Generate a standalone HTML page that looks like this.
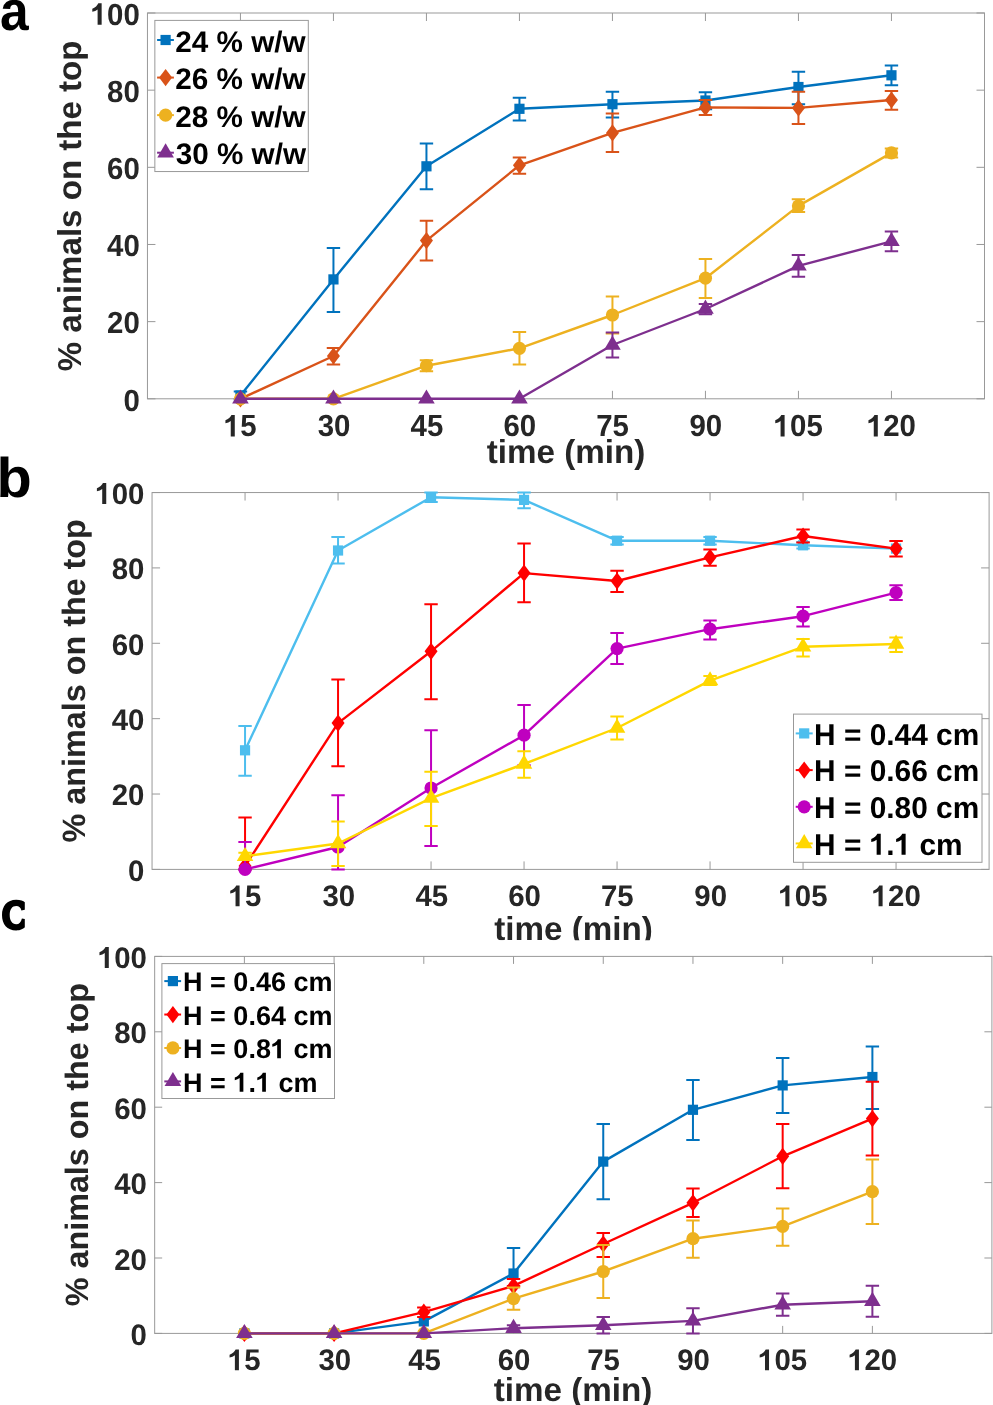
<!DOCTYPE html>
<html><head><meta charset="utf-8"><title>figure</title>
<style>
html,body{margin:0;padding:0;background:#fff;}
body{width:993px;height:1405px;overflow:hidden;}
#w{will-change:transform;width:993px;height:1405px;}
svg{display:block;font-family:"Liberation Sans",sans-serif;font-weight:bold;text-rendering:geometricPrecision;}
</style></head><body><div id="w">
<svg width="993" height="1405" viewBox="0 0 993 1405">
<rect width="993" height="1405" fill="#fff"/>
<rect x="147.45" y="13" width="837.05" height="385.8" fill="none" stroke="#999999" stroke-width="1"/>
<path d="M240.45 398.8V390.8M240.45 13V21M333.45 398.8V390.8M333.45 13V21M426.45 398.8V390.8M426.45 13V21M519.45 398.8V390.8M519.45 13V21M612.45 398.8V390.8M612.45 13V21M705.45 398.8V390.8M705.45 13V21M798.45 398.8V390.8M798.45 13V21M891.45 398.8V390.8M891.45 13V21M147.45 398.8H155.45M984.5 398.8H976.5M147.45 321.64H155.45M984.5 321.64H976.5M147.45 244.48H155.45M984.5 244.48H976.5M147.45 167.32H155.45M984.5 167.32H976.5M147.45 90.16H155.45M984.5 90.16H976.5M147.45 13H155.45M984.5 13H976.5" stroke="#999999" stroke-width="1" fill="none"/>
<path d="M240.45 391.5V399.5M233.75 391.5H247.15M233.75 399.5H247.15" stroke="#0072BD" stroke-width="2.0" fill="none"/>
<path d="M333.45 247.9V312.1M326.75 247.9H340.15M326.75 312.1H340.15" stroke="#0072BD" stroke-width="2.0" fill="none"/>
<path d="M426.45 143.4V189.2M419.75 143.4H433.15M419.75 189.2H433.15" stroke="#0072BD" stroke-width="2.0" fill="none"/>
<path d="M519.45 97.7V120.4M512.75 97.7H526.15M512.75 120.4H526.15" stroke="#0072BD" stroke-width="2.0" fill="none"/>
<path d="M612.45 91.7V117.6M605.75 91.7H619.15M605.75 117.6H619.15" stroke="#0072BD" stroke-width="2.0" fill="none"/>
<path d="M705.45 92.2V109.3M698.75 92.2H712.15M698.75 109.3H712.15" stroke="#0072BD" stroke-width="2.0" fill="none"/>
<path d="M798.45 71.8V104.3M791.75 71.8H805.15M791.75 104.3H805.15" stroke="#0072BD" stroke-width="2.0" fill="none"/>
<path d="M891.45 65.6V85.2M884.75 65.6H898.15M884.75 85.2H898.15" stroke="#0072BD" stroke-width="2.0" fill="none"/>
<path d="M240.45 395.5 L333.45 279.4 L426.45 166.3 L519.45 108.8 L612.45 104.2 L705.45 100.5 L798.45 87 L891.45 75.3" stroke="#0072BD" stroke-width="2.4" fill="none" stroke-linejoin="round"/>
<rect x="235.35" y="390.4" width="10.2" height="10.2" fill="#0072BD"/>
<rect x="328.35" y="274.3" width="10.2" height="10.2" fill="#0072BD"/>
<rect x="421.35" y="161.2" width="10.2" height="10.2" fill="#0072BD"/>
<rect x="514.35" y="103.7" width="10.2" height="10.2" fill="#0072BD"/>
<rect x="607.35" y="99.1" width="10.2" height="10.2" fill="#0072BD"/>
<rect x="700.35" y="95.4" width="10.2" height="10.2" fill="#0072BD"/>
<rect x="793.35" y="81.9" width="10.2" height="10.2" fill="#0072BD"/>
<rect x="886.35" y="70.2" width="10.2" height="10.2" fill="#0072BD"/>
<path d="M333.45 348V364.6M326.75 348H340.15M326.75 364.6H340.15" stroke="#D95319" stroke-width="2.0" fill="none"/>
<path d="M426.45 220.7V260.6M419.75 220.7H433.15M419.75 260.6H433.15" stroke="#D95319" stroke-width="2.0" fill="none"/>
<path d="M519.45 157.5V173.7M512.75 157.5H526.15M512.75 173.7H526.15" stroke="#D95319" stroke-width="2.0" fill="none"/>
<path d="M612.45 113.5V151.9M605.75 113.5H619.15M605.75 151.9H619.15" stroke="#D95319" stroke-width="2.0" fill="none"/>
<path d="M705.45 100V114.9M698.75 100H712.15M698.75 114.9H712.15" stroke="#D95319" stroke-width="2.0" fill="none"/>
<path d="M798.45 91.7V124.1M791.75 91.7H805.15M791.75 124.1H805.15" stroke="#D95319" stroke-width="2.0" fill="none"/>
<path d="M891.45 91.1V109.7M884.75 91.1H898.15M884.75 109.7H898.15" stroke="#D95319" stroke-width="2.0" fill="none"/>
<path d="M240.45 398.8 L333.45 356 L426.45 240.6 L519.45 165.3 L612.45 132.9 L705.45 107.4 L798.45 107.9 L891.45 100" stroke="#D95319" stroke-width="2.4" fill="none" stroke-linejoin="round"/>
<path d="M240.45 390.2L246.95 398.8L240.45 407.4L233.95 398.8Z" fill="#D95319"/>
<path d="M333.45 347.4L339.95 356L333.45 364.6L326.95 356Z" fill="#D95319"/>
<path d="M426.45 232L432.95 240.6L426.45 249.2L419.95 240.6Z" fill="#D95319"/>
<path d="M519.45 156.7L525.95 165.3L519.45 173.9L512.95 165.3Z" fill="#D95319"/>
<path d="M612.45 124.3L618.95 132.9L612.45 141.5L605.95 132.9Z" fill="#D95319"/>
<path d="M705.45 98.8L711.95 107.4L705.45 116L698.95 107.4Z" fill="#D95319"/>
<path d="M798.45 99.3L804.95 107.9L798.45 116.5L791.95 107.9Z" fill="#D95319"/>
<path d="M891.45 91.4L897.95 100L891.45 108.6L884.95 100Z" fill="#D95319"/>
<path d="M426.45 360.3V371.2M419.75 360.3H433.15M419.75 371.2H433.15" stroke="#EDB120" stroke-width="2.0" fill="none"/>
<path d="M519.45 332.1V364.5M512.75 332.1H526.15M512.75 364.5H526.15" stroke="#EDB120" stroke-width="2.0" fill="none"/>
<path d="M612.45 296.4V333.5M605.75 296.4H619.15M605.75 333.5H619.15" stroke="#EDB120" stroke-width="2.0" fill="none"/>
<path d="M705.45 259V298M698.75 259H712.15M698.75 298H712.15" stroke="#EDB120" stroke-width="2.0" fill="none"/>
<path d="M798.45 199.3V212.1M791.75 199.3H805.15M791.75 212.1H805.15" stroke="#EDB120" stroke-width="2.0" fill="none"/>
<path d="M891.45 148.6V157.4M884.75 148.6H898.15M884.75 157.4H898.15" stroke="#EDB120" stroke-width="2.0" fill="none"/>
<path d="M240.45 398.8 L333.45 398.8 L426.45 365.7 L519.45 348.3 L612.45 315 L705.45 278.2 L798.45 205.9 L891.45 152.9" stroke="#EDB120" stroke-width="2.4" fill="none" stroke-linejoin="round"/>
<circle cx="240.45" cy="398.8" r="6.6" fill="#EDB120"/>
<circle cx="333.45" cy="398.8" r="6.6" fill="#EDB120"/>
<circle cx="426.45" cy="365.7" r="6.6" fill="#EDB120"/>
<circle cx="519.45" cy="348.3" r="6.6" fill="#EDB120"/>
<circle cx="612.45" cy="315" r="6.6" fill="#EDB120"/>
<circle cx="705.45" cy="278.2" r="6.6" fill="#EDB120"/>
<circle cx="798.45" cy="205.9" r="6.6" fill="#EDB120"/>
<circle cx="891.45" cy="152.9" r="6.6" fill="#EDB120"/>
<path d="M612.45 332.6V357.6M605.75 332.6H619.15M605.75 357.6H619.15" stroke="#7E2F8E" stroke-width="2.0" fill="none"/>
<path d="M705.45 304V314.2M698.75 304H712.15M698.75 314.2H712.15" stroke="#7E2F8E" stroke-width="2.0" fill="none"/>
<path d="M798.45 254.9V276.7M791.75 254.9H805.15M791.75 276.7H805.15" stroke="#7E2F8E" stroke-width="2.0" fill="none"/>
<path d="M891.45 231.5V251.3M884.75 231.5H898.15M884.75 251.3H898.15" stroke="#7E2F8E" stroke-width="2.0" fill="none"/>
<path d="M240.45 398.8 L333.45 398.8 L426.45 398.8 L519.45 398.8 L612.45 345 L705.45 309 L798.45 265.8 L891.45 241.4" stroke="#7E2F8E" stroke-width="2.4" fill="none" stroke-linejoin="round"/>
<path d="M240.45 389.4L248.75 403.5L232.15 403.5Z" fill="#7E2F8E"/>
<path d="M333.45 389.4L341.75 403.5L325.15 403.5Z" fill="#7E2F8E"/>
<path d="M426.45 389.4L434.75 403.5L418.15 403.5Z" fill="#7E2F8E"/>
<path d="M519.45 389.4L527.75 403.5L511.15 403.5Z" fill="#7E2F8E"/>
<path d="M612.45 335.6L620.75 349.7L604.15 349.7Z" fill="#7E2F8E"/>
<path d="M705.45 299.6L713.75 313.7L697.15 313.7Z" fill="#7E2F8E"/>
<path d="M798.45 256.4L806.75 270.5L790.15 270.5Z" fill="#7E2F8E"/>
<path d="M891.45 232L899.75 246.1L883.15 246.1Z" fill="#7E2F8E"/>
<rect x="154.85" y="20.4" width="153.45" height="151.15" fill="#fff" stroke="#999999" stroke-width="1"/>
<path d="M157.1 40H173.9" stroke="#0072BD" stroke-width="2.0"/>
<rect x="160.5" y="34.9" width="10.2" height="10.2" fill="#0072BD"/>
<text transform="translate(175.32 51.6)" font-size="29.7" fill="#000">24 % w/w</text>
<path d="M157.1 77.57H173.9" stroke="#D95319" stroke-width="2.0"/>
<path d="M165.6 68.97L172.1 77.57L165.6 86.17L159.1 77.57Z" fill="#D95319"/>
<text transform="translate(175.32 89.17)" font-size="29.7" fill="#000">26 % w/w</text>
<path d="M157.1 115.13H173.9" stroke="#EDB120" stroke-width="2.0"/>
<circle cx="165.6" cy="115.13" r="6.6" fill="#EDB120"/>
<text transform="translate(175.32 126.73)" font-size="29.7" fill="#000">28 % w/w</text>
<path d="M157.1 152.7H173.9" stroke="#7E2F8E" stroke-width="2.0"/>
<path d="M165.6 143.3L173.9 157.4L157.3 157.4Z" fill="#7E2F8E"/>
<text transform="translate(175.67 164.3)" font-size="29.7" fill="#000">30 % w/w</text>
<g transform="translate(223.88 436.4) scale(0.98 1.02)" fill="#262626"><text font-size="30"> 5</text><path transform="translate(0 0) scale(0.01465 -0.01465)" d="M759 0L478 0L478 1030Q330 915 108 874L108 1078Q250 1125 370 1230Q480 1330 528 1440L759 1440Z"/></g>
<text transform="translate(317.66 436.4) scale(0.98 1.02)" font-size="30" fill="#262626">30</text>
<text transform="translate(410.59 436.4) scale(0.98 1.02)" font-size="30" fill="#262626">45</text>
<text transform="translate(503.46 436.4) scale(0.98 1.02)" font-size="30" fill="#262626">60</text>
<text transform="translate(596.18 436.4) scale(0.98 1.02)" font-size="30" fill="#262626">75</text>
<text transform="translate(689.49 436.4) scale(0.98 1.02)" font-size="30" fill="#262626">90</text>
<g transform="translate(773.71 436.4) scale(0.98 1.02)" fill="#262626"><text font-size="30"> 05</text><path transform="translate(0 0) scale(0.01465 -0.01465)" d="M759 0L478 0L478 1030Q330 915 108 874L108 1078Q250 1125 370 1230Q480 1330 528 1440L759 1440Z"/></g>
<g transform="translate(866.9 436.4) scale(0.98 1.02)" fill="#262626"><text font-size="30"> 20</text><path transform="translate(0 0) scale(0.01465 -0.01465)" d="M759 0L478 0L478 1030Q330 915 108 874L108 1078Q250 1125 370 1230Q480 1330 528 1440L759 1440Z"/></g>
<text transform="translate(123.45 410.6) scale(0.98 1.02)" font-size="30" fill="#262626">0</text>
<text transform="translate(107.1 333.44) scale(0.98 1.02)" font-size="30" fill="#262626">20</text>
<text transform="translate(107.1 256.28) scale(0.98 1.02)" font-size="30" fill="#262626">40</text>
<text transform="translate(107.1 179.12) scale(0.98 1.02)" font-size="30" fill="#262626">60</text>
<text transform="translate(107.1 101.96) scale(0.98 1.02)" font-size="30" fill="#262626">80</text>
<g transform="translate(90.75 24.8) scale(0.98 1.02)" fill="#262626"><text font-size="30"> 00</text><path transform="translate(0 0) scale(0.01465 -0.01465)" d="M759 0L478 0L478 1030Q330 915 108 874L108 1078Q250 1125 370 1230Q480 1330 528 1440L759 1440Z"/></g>
<text transform="translate(486.81 462.9)" font-size="33.2" fill="#262626">time (min)</text>
<text transform="translate(80.5 206.05) rotate(-90)" x="-165.25" font-size="33.1" fill="#262626">% animals on the top</text>
<text transform="translate(-0.01 30.2) scale(0.92 1.0)" font-size="56" fill="#000">a</text>
<rect x="152.05" y="492.55" width="837.05" height="376.85" fill="none" stroke="#999999" stroke-width="1"/>
<path d="M245.05 869.4V861.4M245.05 492.55V500.55M338.05 869.4V861.4M338.05 492.55V500.55M431.05 869.4V861.4M431.05 492.55V500.55M524.05 869.4V861.4M524.05 492.55V500.55M617.05 869.4V861.4M617.05 492.55V500.55M710.05 869.4V861.4M710.05 492.55V500.55M803.05 869.4V861.4M803.05 492.55V500.55M896.05 869.4V861.4M896.05 492.55V500.55M152.05 869.4H160.05M989.1 869.4H981.1M152.05 794.03H160.05M989.1 794.03H981.1M152.05 718.66H160.05M989.1 718.66H981.1M152.05 643.29H160.05M989.1 643.29H981.1M152.05 567.92H160.05M989.1 567.92H981.1M152.05 492.55H160.05M989.1 492.55H981.1" stroke="#999999" stroke-width="1" fill="none"/>
<path d="M245.05 726V775.7M238.35 726H251.75M238.35 775.7H251.75" stroke="#4DBEEE" stroke-width="2.0" fill="none"/>
<path d="M338.05 537V563.5M331.35 537H344.75M331.35 563.5H344.75" stroke="#4DBEEE" stroke-width="2.0" fill="none"/>
<path d="M431.05 492.5V502M424.35 492.5H437.75M424.35 502H437.75" stroke="#4DBEEE" stroke-width="2.0" fill="none"/>
<path d="M524.05 492.6V508.3M517.35 492.6H530.75M517.35 508.3H530.75" stroke="#4DBEEE" stroke-width="2.0" fill="none"/>
<path d="M617.05 537V544.4M610.35 537H623.75M610.35 544.4H623.75" stroke="#4DBEEE" stroke-width="2.0" fill="none"/>
<path d="M710.05 537V544.4M703.35 537H716.75M703.35 544.4H716.75" stroke="#4DBEEE" stroke-width="2.0" fill="none"/>
<path d="M803.05 542V548.6M796.35 542H809.75M796.35 548.6H809.75" stroke="#4DBEEE" stroke-width="2.0" fill="none"/>
<path d="M245.05 750.3 L338.05 550.5 L431.05 497.2 L524.05 499.9 L617.05 540.7 L710.05 540.7 L803.05 545.3 L896.05 548.6" stroke="#4DBEEE" stroke-width="2.4" fill="none" stroke-linejoin="round"/>
<rect x="239.95" y="745.2" width="10.2" height="10.2" fill="#4DBEEE"/>
<rect x="332.95" y="545.4" width="10.2" height="10.2" fill="#4DBEEE"/>
<rect x="425.95" y="492.1" width="10.2" height="10.2" fill="#4DBEEE"/>
<rect x="518.95" y="494.8" width="10.2" height="10.2" fill="#4DBEEE"/>
<rect x="611.95" y="535.6" width="10.2" height="10.2" fill="#4DBEEE"/>
<rect x="704.95" y="535.6" width="10.2" height="10.2" fill="#4DBEEE"/>
<rect x="797.95" y="540.2" width="10.2" height="10.2" fill="#4DBEEE"/>
<rect x="890.95" y="543.5" width="10.2" height="10.2" fill="#4DBEEE"/>
<path d="M245.05 817.4V869.4M238.35 817.4H251.75M238.35 869.4H251.75" stroke="#FF0000" stroke-width="2.0" fill="none"/>
<path d="M338.05 679.6V766.2M331.35 679.6H344.75M331.35 766.2H344.75" stroke="#FF0000" stroke-width="2.0" fill="none"/>
<path d="M431.05 604.2V699.2M424.35 604.2H437.75M424.35 699.2H437.75" stroke="#FF0000" stroke-width="2.0" fill="none"/>
<path d="M524.05 543.5V602.3M517.35 543.5H530.75M517.35 602.3H530.75" stroke="#FF0000" stroke-width="2.0" fill="none"/>
<path d="M617.05 570.8V592.1M610.35 570.8H623.75M610.35 592.1H623.75" stroke="#FF0000" stroke-width="2.0" fill="none"/>
<path d="M710.05 549.5V565.7M703.35 549.5H716.75M703.35 565.7H716.75" stroke="#FF0000" stroke-width="2.0" fill="none"/>
<path d="M803.05 529.6V542.4M796.35 529.6H809.75M796.35 542.4H809.75" stroke="#FF0000" stroke-width="2.0" fill="none"/>
<path d="M896.05 541.1V556.4M889.35 541.1H902.75M889.35 556.4H902.75" stroke="#FF0000" stroke-width="2.0" fill="none"/>
<path d="M245.05 866 L338.05 723.1 L431.05 651.3 L524.05 573.1 L617.05 581 L710.05 557.4 L803.05 536 L896.05 548.6" stroke="#FF0000" stroke-width="2.4" fill="none" stroke-linejoin="round"/>
<path d="M245.05 857.4L251.55 866L245.05 874.6L238.55 866Z" fill="#FF0000"/>
<path d="M338.05 714.5L344.55 723.1L338.05 731.7L331.55 723.1Z" fill="#FF0000"/>
<path d="M431.05 642.7L437.55 651.3L431.05 659.9L424.55 651.3Z" fill="#FF0000"/>
<path d="M524.05 564.5L530.55 573.1L524.05 581.7L517.55 573.1Z" fill="#FF0000"/>
<path d="M617.05 572.4L623.55 581L617.05 589.6L610.55 581Z" fill="#FF0000"/>
<path d="M710.05 548.8L716.55 557.4L710.05 566L703.55 557.4Z" fill="#FF0000"/>
<path d="M803.05 527.4L809.55 536L803.05 544.6L796.55 536Z" fill="#FF0000"/>
<path d="M896.05 540L902.55 548.6L896.05 557.2L889.55 548.6Z" fill="#FF0000"/>
<path d="M245.05 841.9V869.4M238.35 841.9H251.75M238.35 869.4H251.75" stroke="#BF00BF" stroke-width="2.0" fill="none"/>
<path d="M338.05 795.2V869.4M331.35 795.2H344.75M331.35 869.4H344.75" stroke="#BF00BF" stroke-width="2.0" fill="none"/>
<path d="M431.05 730.3V846M424.35 730.3H437.75M424.35 846H437.75" stroke="#BF00BF" stroke-width="2.0" fill="none"/>
<path d="M524.05 705.1V765.3M517.35 705.1H530.75M517.35 765.3H530.75" stroke="#BF00BF" stroke-width="2.0" fill="none"/>
<path d="M617.05 632.9V663.9M610.35 632.9H623.75M610.35 663.9H623.75" stroke="#BF00BF" stroke-width="2.0" fill="none"/>
<path d="M710.05 620.4V639.4M703.35 620.4H716.75M703.35 639.4H716.75" stroke="#BF00BF" stroke-width="2.0" fill="none"/>
<path d="M803.05 607V626.4M796.35 607H809.75M796.35 626.4H809.75" stroke="#BF00BF" stroke-width="2.0" fill="none"/>
<path d="M896.05 585.2V600M889.35 585.2H902.75M889.35 600H902.75" stroke="#BF00BF" stroke-width="2.0" fill="none"/>
<path d="M245.05 869.4 L338.05 847 L431.05 788 L524.05 735.2 L617.05 648.6 L710.05 629.2 L803.05 616.2 L896.05 592.6" stroke="#BF00BF" stroke-width="2.4" fill="none" stroke-linejoin="round"/>
<circle cx="245.05" cy="869.4" r="6.6" fill="#BF00BF"/>
<circle cx="338.05" cy="847" r="6.6" fill="#BF00BF"/>
<circle cx="431.05" cy="788" r="6.6" fill="#BF00BF"/>
<circle cx="524.05" cy="735.2" r="6.6" fill="#BF00BF"/>
<circle cx="617.05" cy="648.6" r="6.6" fill="#BF00BF"/>
<circle cx="710.05" cy="629.2" r="6.6" fill="#BF00BF"/>
<circle cx="803.05" cy="616.2" r="6.6" fill="#BF00BF"/>
<circle cx="896.05" cy="592.6" r="6.6" fill="#BF00BF"/>
<path d="M245.05 852.8V859.8M238.35 852.8H251.75M238.35 859.8H251.75" stroke="#FFD700" stroke-width="2.0" fill="none"/>
<path d="M338.05 821.4V866M331.35 821.4H344.75M331.35 866H344.75" stroke="#FFD700" stroke-width="2.0" fill="none"/>
<path d="M431.05 771.7V826M424.35 771.7H437.75M424.35 826H437.75" stroke="#FFD700" stroke-width="2.0" fill="none"/>
<path d="M524.05 751.2V777.8M517.35 751.2H530.75M517.35 777.8H530.75" stroke="#FFD700" stroke-width="2.0" fill="none"/>
<path d="M617.05 716.4V739.4M610.35 716.4H623.75M610.35 739.4H623.75" stroke="#FFD700" stroke-width="2.0" fill="none"/>
<path d="M710.05 676V685M703.35 676H716.75M703.35 685H716.75" stroke="#FFD700" stroke-width="2.0" fill="none"/>
<path d="M803.05 638.9V656.5M796.35 638.9H809.75M796.35 656.5H809.75" stroke="#FFD700" stroke-width="2.0" fill="none"/>
<path d="M896.05 637.5V651.9M889.35 637.5H902.75M889.35 651.9H902.75" stroke="#FFD700" stroke-width="2.0" fill="none"/>
<path d="M245.05 856.3 L338.05 843.5 L431.05 798.1 L524.05 764 L617.05 728 L710.05 680.6 L803.05 646.8 L896.05 644" stroke="#FFD700" stroke-width="2.4" fill="none" stroke-linejoin="round"/>
<path d="M245.05 846.9L253.35 861L236.75 861Z" fill="#FFD700"/>
<path d="M338.05 834.1L346.35 848.2L329.75 848.2Z" fill="#FFD700"/>
<path d="M431.05 788.7L439.35 802.8L422.75 802.8Z" fill="#FFD700"/>
<path d="M524.05 754.6L532.35 768.7L515.75 768.7Z" fill="#FFD700"/>
<path d="M617.05 718.6L625.35 732.7L608.75 732.7Z" fill="#FFD700"/>
<path d="M710.05 671.2L718.35 685.3L701.75 685.3Z" fill="#FFD700"/>
<path d="M803.05 637.4L811.35 651.5L794.75 651.5Z" fill="#FFD700"/>
<path d="M896.05 634.6L904.35 648.7L887.75 648.7Z" fill="#FFD700"/>
<rect x="793.5" y="714.1" width="188.5" height="148.2" fill="#fff" stroke="#999999" stroke-width="1"/>
<path d="M795.7 733.4H812.7" stroke="#4DBEEE" stroke-width="2.0"/>
<rect x="799.1" y="728.3" width="10.2" height="10.2" fill="#4DBEEE"/>
<text transform="translate(814.1 744.7) scale(0.995 1.0)" font-size="30" fill="#000">H = 0.44 cm</text>
<path d="M795.7 770.1H812.7" stroke="#FF0000" stroke-width="2.0"/>
<path d="M804.2 761.5L810.7 770.1L804.2 778.7L797.7 770.1Z" fill="#FF0000"/>
<text transform="translate(814.1 781.4) scale(0.995 1.0)" font-size="30" fill="#000">H = 0.66 cm</text>
<path d="M795.7 806.8H812.7" stroke="#BF00BF" stroke-width="2.0"/>
<circle cx="804.2" cy="806.8" r="6.6" fill="#BF00BF"/>
<text transform="translate(814.1 818.1) scale(0.995 1.0)" font-size="30" fill="#000">H = 0.80 cm</text>
<path d="M795.7 843.45H812.7" stroke="#FFD700" stroke-width="2.0"/>
<path d="M804.2 834.05L812.5 848.15L795.9 848.15Z" fill="#FFD700"/>
<g transform="translate(814.1 854.75) scale(0.995 1.0)" fill="#000"><text font-size="30">H =  .  cm</text><path transform="translate(55.85 0) scale(0.01465 -0.01465)" d="M759 0L478 0L478 1030Q330 915 108 874L108 1078Q250 1125 370 1230Q480 1330 528 1440L759 1440Z"/><path transform="translate(80.87 0) scale(0.01465 -0.01465)" d="M759 0L478 0L478 1030Q330 915 108 874L108 1078Q250 1125 370 1230Q480 1330 528 1440L759 1440Z"/></g>
<g transform="translate(228.68 906.3) scale(0.98 0.99)" fill="#262626"><text font-size="30"> 5</text><path transform="translate(0 0) scale(0.01465 -0.01465)" d="M759 0L478 0L478 1030Q330 915 108 874L108 1078Q250 1125 370 1230Q480 1330 528 1440L759 1440Z"/></g>
<text transform="translate(322.46 906.3) scale(0.98 0.99)" font-size="30" fill="#262626">30</text>
<text transform="translate(415.39 906.3) scale(0.98 0.99)" font-size="30" fill="#262626">45</text>
<text transform="translate(508.26 906.3) scale(0.98 0.99)" font-size="30" fill="#262626">60</text>
<text transform="translate(600.98 906.3) scale(0.98 0.99)" font-size="30" fill="#262626">75</text>
<text transform="translate(694.29 906.3) scale(0.98 0.99)" font-size="30" fill="#262626">90</text>
<g transform="translate(778.51 906.3) scale(0.98 0.99)" fill="#262626"><text font-size="30"> 05</text><path transform="translate(0 0) scale(0.01465 -0.01465)" d="M759 0L478 0L478 1030Q330 915 108 874L108 1078Q250 1125 370 1230Q480 1330 528 1440L759 1440Z"/></g>
<g transform="translate(871.7 906.3) scale(0.98 0.99)" fill="#262626"><text font-size="30"> 20</text><path transform="translate(0 0) scale(0.01465 -0.01465)" d="M759 0L478 0L478 1030Q330 915 108 874L108 1078Q250 1125 370 1230Q480 1330 528 1440L759 1440Z"/></g>
<text transform="translate(128.05 880.8) scale(0.98 0.99)" font-size="30" fill="#262626">0</text>
<text transform="translate(111.7 805.43) scale(0.98 0.99)" font-size="30" fill="#262626">20</text>
<text transform="translate(111.7 730.06) scale(0.98 0.99)" font-size="30" fill="#262626">40</text>
<text transform="translate(111.7 654.69) scale(0.98 0.99)" font-size="30" fill="#262626">60</text>
<text transform="translate(111.7 579.32) scale(0.98 0.99)" font-size="30" fill="#262626">80</text>
<g transform="translate(95.35 503.95) scale(0.98 0.99)" fill="#262626"><text font-size="30"> 00</text><path transform="translate(0 0) scale(0.01465 -0.01465)" d="M759 0L478 0L478 1030Q330 915 108 874L108 1078Q250 1125 370 1230Q480 1330 528 1440L759 1440Z"/></g>
<clipPath id="cb"><rect x="0" y="0" width="993" height="940.3"/></clipPath>
<g clip-path="url(#cb)"><text transform="translate(494.31 940)" font-size="33.2" fill="#262626">time (min)</text></g>
<text transform="translate(85 680.95) rotate(-90)" x="-161.51" font-size="32.35" fill="#262626">% animals on the top</text>
<text transform="translate(-3.4 497) scale(1.03 1.0)" font-size="56" fill="#000">b</text>
<rect x="154.67" y="956.4" width="837.23" height="377" fill="none" stroke="#999999" stroke-width="1"/>
<path d="M244.38 1333.4V1325.9M244.38 956.4V963.9M334.1 1333.4V1325.9M334.1 956.4V963.9M423.81 1333.4V1325.9M423.81 956.4V963.9M513.53 1333.4V1325.9M513.53 956.4V963.9M603.25 1333.4V1325.9M603.25 956.4V963.9M692.96 1333.4V1325.9M692.96 956.4V963.9M782.67 1333.4V1325.9M782.67 956.4V963.9M872.39 1333.4V1325.9M872.39 956.4V963.9M154.67 1333.4H162.17M991.9 1333.4H984.4M154.67 1258H162.17M991.9 1258H984.4M154.67 1182.6H162.17M991.9 1182.6H984.4M154.67 1107.2H162.17M991.9 1107.2H984.4M154.67 1031.8H162.17M991.9 1031.8H984.4M154.67 956.4H162.17M991.9 956.4H984.4" stroke="#999999" stroke-width="1" fill="none"/>
<path d="M513.53 1248V1298.6M506.83 1248H520.23M506.83 1298.6H520.23" stroke="#0072BD" stroke-width="2.0" fill="none"/>
<path d="M603.25 1123.9V1199.3M596.54 1123.9H609.95M596.54 1199.3H609.95" stroke="#0072BD" stroke-width="2.0" fill="none"/>
<path d="M692.96 1080V1139.9M686.26 1080H699.66M686.26 1139.9H699.66" stroke="#0072BD" stroke-width="2.0" fill="none"/>
<path d="M782.67 1057.9V1112.9M775.97 1057.9H789.38M775.97 1112.9H789.38" stroke="#0072BD" stroke-width="2.0" fill="none"/>
<path d="M872.39 1046.4V1108.9M865.69 1046.4H879.09M865.69 1108.9H879.09" stroke="#0072BD" stroke-width="2.0" fill="none"/>
<path d="M244.38 1333.4 L334.1 1333.4 L423.81 1321.4 L513.53 1273.5 L603.25 1161.6 L692.96 1109.8 L782.67 1085.4 L872.39 1077" stroke="#0072BD" stroke-width="2.4" fill="none" stroke-linejoin="round"/>
<rect x="239.28" y="1328.3" width="10.2" height="10.2" fill="#0072BD"/>
<rect x="329" y="1328.3" width="10.2" height="10.2" fill="#0072BD"/>
<rect x="418.71" y="1316.3" width="10.2" height="10.2" fill="#0072BD"/>
<rect x="508.43" y="1268.4" width="10.2" height="10.2" fill="#0072BD"/>
<rect x="598.14" y="1156.5" width="10.2" height="10.2" fill="#0072BD"/>
<rect x="687.86" y="1104.7" width="10.2" height="10.2" fill="#0072BD"/>
<rect x="777.57" y="1080.3" width="10.2" height="10.2" fill="#0072BD"/>
<rect x="867.29" y="1071.9" width="10.2" height="10.2" fill="#0072BD"/>
<path d="M423.81 1307.5V1317M417.11 1307.5H430.51M417.11 1317H430.51" stroke="#FF0000" stroke-width="2.0" fill="none"/>
<path d="M513.53 1279V1286M506.83 1279H520.23M506.83 1286H520.23" stroke="#FF0000" stroke-width="2.0" fill="none"/>
<path d="M603.25 1233V1256.9M596.54 1233H609.95M596.54 1256.9H609.95" stroke="#FF0000" stroke-width="2.0" fill="none"/>
<path d="M692.96 1188.6V1217M686.26 1188.6H699.66M686.26 1217H699.66" stroke="#FF0000" stroke-width="2.0" fill="none"/>
<path d="M782.67 1123.9V1188.2M775.97 1123.9H789.38M775.97 1188.2H789.38" stroke="#FF0000" stroke-width="2.0" fill="none"/>
<path d="M872.39 1081.8V1155.4M865.69 1081.8H879.09M865.69 1155.4H879.09" stroke="#FF0000" stroke-width="2.0" fill="none"/>
<path d="M244.38 1333.4 L334.1 1333.4 L423.81 1312.2 L513.53 1285.9 L603.25 1244 L692.96 1202.8 L782.67 1156.3 L872.39 1118.6" stroke="#FF0000" stroke-width="2.4" fill="none" stroke-linejoin="round"/>
<path d="M244.38 1324.8L250.88 1333.4L244.38 1342L237.88 1333.4Z" fill="#FF0000"/>
<path d="M334.1 1324.8L340.6 1333.4L334.1 1342L327.6 1333.4Z" fill="#FF0000"/>
<path d="M423.81 1303.6L430.31 1312.2L423.81 1320.8L417.31 1312.2Z" fill="#FF0000"/>
<path d="M513.53 1277.3L520.03 1285.9L513.53 1294.5L507.03 1285.9Z" fill="#FF0000"/>
<path d="M603.25 1235.4L609.75 1244L603.25 1252.6L596.75 1244Z" fill="#FF0000"/>
<path d="M692.96 1194.2L699.46 1202.8L692.96 1211.4L686.46 1202.8Z" fill="#FF0000"/>
<path d="M782.67 1147.7L789.17 1156.3L782.67 1164.9L776.17 1156.3Z" fill="#FF0000"/>
<path d="M872.39 1110L878.89 1118.6L872.39 1127.2L865.89 1118.6Z" fill="#FF0000"/>
<path d="M513.53 1287.6V1309.7M506.83 1287.6H520.23M506.83 1309.7H520.23" stroke="#EDB120" stroke-width="2.0" fill="none"/>
<path d="M603.25 1244.9V1298M596.54 1244.9H609.95M596.54 1298H609.95" stroke="#EDB120" stroke-width="2.0" fill="none"/>
<path d="M692.96 1220.5V1257.8M686.26 1220.5H699.66M686.26 1257.8H699.66" stroke="#EDB120" stroke-width="2.0" fill="none"/>
<path d="M782.67 1208.6V1245.8M775.97 1208.6H789.38M775.97 1245.8H789.38" stroke="#EDB120" stroke-width="2.0" fill="none"/>
<path d="M872.39 1159.4V1224.1M865.69 1159.4H879.09M865.69 1224.1H879.09" stroke="#EDB120" stroke-width="2.0" fill="none"/>
<path d="M244.38 1333.4 L334.1 1333.4 L423.81 1333.4 L513.53 1298.6 L603.25 1271.5 L692.96 1238.7 L782.67 1226.3 L872.39 1191.7" stroke="#EDB120" stroke-width="2.4" fill="none" stroke-linejoin="round"/>
<circle cx="244.38" cy="1333.4" r="6.6" fill="#EDB120"/>
<circle cx="334.1" cy="1333.4" r="6.6" fill="#EDB120"/>
<circle cx="423.81" cy="1333.4" r="6.6" fill="#EDB120"/>
<circle cx="513.53" cy="1298.6" r="6.6" fill="#EDB120"/>
<circle cx="603.25" cy="1271.5" r="6.6" fill="#EDB120"/>
<circle cx="692.96" cy="1238.7" r="6.6" fill="#EDB120"/>
<circle cx="782.67" cy="1226.3" r="6.6" fill="#EDB120"/>
<circle cx="872.39" cy="1191.7" r="6.6" fill="#EDB120"/>
<path d="M513.53 1325.3V1331.1M506.83 1325.3H520.23M506.83 1331.1H520.23" stroke="#7E2F8E" stroke-width="2.0" fill="none"/>
<path d="M603.25 1317.1V1333.5M596.54 1317.1H609.95M596.54 1333.5H609.95" stroke="#7E2F8E" stroke-width="2.0" fill="none"/>
<path d="M692.96 1308.3V1333.5M686.26 1308.3H699.66M686.26 1333.5H699.66" stroke="#7E2F8E" stroke-width="2.0" fill="none"/>
<path d="M782.67 1293.6V1315.8M775.97 1293.6H789.38M775.97 1315.8H789.38" stroke="#7E2F8E" stroke-width="2.0" fill="none"/>
<path d="M872.39 1285.7V1316.7M865.69 1285.7H879.09M865.69 1316.7H879.09" stroke="#7E2F8E" stroke-width="2.0" fill="none"/>
<path d="M244.38 1333.4 L334.1 1333.4 L423.81 1333.4 L513.53 1328.2 L603.25 1325.3 L692.96 1320.9 L782.67 1304.7 L872.39 1301.2" stroke="#7E2F8E" stroke-width="2.4" fill="none" stroke-linejoin="round"/>
<path d="M244.38 1324L252.69 1338.1L236.08 1338.1Z" fill="#7E2F8E"/>
<path d="M334.1 1324L342.4 1338.1L325.8 1338.1Z" fill="#7E2F8E"/>
<path d="M423.81 1324L432.11 1338.1L415.51 1338.1Z" fill="#7E2F8E"/>
<path d="M513.53 1318.8L521.83 1332.9L505.23 1332.9Z" fill="#7E2F8E"/>
<path d="M603.25 1315.9L611.54 1330L594.95 1330Z" fill="#7E2F8E"/>
<path d="M692.96 1311.5L701.26 1325.6L684.66 1325.6Z" fill="#7E2F8E"/>
<path d="M782.67 1295.3L790.97 1309.4L774.38 1309.4Z" fill="#7E2F8E"/>
<path d="M872.39 1291.8L880.69 1305.9L864.09 1305.9Z" fill="#7E2F8E"/>
<rect x="161.9" y="963.6" width="172.6" height="134.9" fill="#fff" stroke="#999999" stroke-width="1"/>
<path d="M164.3 981.1H181.1" stroke="#0072BD" stroke-width="2.0"/>
<rect x="167.8" y="976" width="10.2" height="10.2" fill="#0072BD"/>
<text transform="translate(183.09 991.4)" font-size="27" fill="#000">H = 0.46 cm</text>
<path d="M164.3 1014.53H181.1" stroke="#FF0000" stroke-width="2.0"/>
<path d="M172.9 1005.93L179.4 1014.53L172.9 1023.13L166.4 1014.53Z" fill="#FF0000"/>
<text transform="translate(183.09 1024.83)" font-size="27" fill="#000">H = 0.64 cm</text>
<path d="M164.3 1047.97H181.1" stroke="#EDB120" stroke-width="2.0"/>
<circle cx="172.9" cy="1047.97" r="6.6" fill="#EDB120"/>
<g transform="translate(183.09 1058.27)" fill="#000"><text font-size="27">H = 0.8  cm</text><path transform="translate(87.8 0) scale(0.01318 -0.01318)" d="M759 0L478 0L478 1030Q330 915 108 874L108 1078Q250 1125 370 1230Q480 1330 528 1440L759 1440Z"/></g>
<path d="M164.3 1081.4H181.1" stroke="#7E2F8E" stroke-width="2.0"/>
<path d="M172.9 1072L181.2 1086.1L164.6 1086.1Z" fill="#7E2F8E"/>
<g transform="translate(183.09 1091.7)" fill="#000"><text font-size="27">H =  .  cm</text><path transform="translate(50.27 0) scale(0.01318 -0.01318)" d="M759 0L478 0L478 1030Q330 915 108 874L108 1078Q250 1125 370 1230Q480 1330 528 1440L759 1440Z"/><path transform="translate(72.79 0) scale(0.01318 -0.01318)" d="M759 0L478 0L478 1030Q330 915 108 874L108 1078Q250 1125 370 1230Q480 1330 528 1440L759 1440Z"/></g>
<g transform="translate(228.02 1370.3) scale(0.98 0.99)" fill="#262626"><text font-size="30"> 5</text><path transform="translate(0 0) scale(0.01465 -0.01465)" d="M759 0L478 0L478 1030Q330 915 108 874L108 1078Q250 1125 370 1230Q480 1330 528 1440L759 1440Z"/></g>
<text transform="translate(318.51 1370.3) scale(0.98 0.99)" font-size="30" fill="#262626">30</text>
<text transform="translate(408.15 1370.3) scale(0.98 0.99)" font-size="30" fill="#262626">45</text>
<text transform="translate(497.74 1370.3) scale(0.98 0.99)" font-size="30" fill="#262626">60</text>
<text transform="translate(587.17 1370.3) scale(0.98 0.99)" font-size="30" fill="#262626">75</text>
<text transform="translate(677.2 1370.3) scale(0.98 0.99)" font-size="30" fill="#262626">90</text>
<g transform="translate(758.13 1370.3) scale(0.98 0.99)" fill="#262626"><text font-size="30"> 05</text><path transform="translate(0 0) scale(0.01465 -0.01465)" d="M759 0L478 0L478 1030Q330 915 108 874L108 1078Q250 1125 370 1230Q480 1330 528 1440L759 1440Z"/></g>
<g transform="translate(848.04 1370.3) scale(0.98 0.99)" fill="#262626"><text font-size="30"> 20</text><path transform="translate(0 0) scale(0.01465 -0.01465)" d="M759 0L478 0L478 1030Q330 915 108 874L108 1078Q250 1125 370 1230Q480 1330 528 1440L759 1440Z"/></g>
<text transform="translate(130.6 1344.9) scale(0.98 0.99)" font-size="30" fill="#262626">0</text>
<text transform="translate(114.25 1269.5) scale(0.98 0.99)" font-size="30" fill="#262626">20</text>
<text transform="translate(114.25 1194.1) scale(0.98 0.99)" font-size="30" fill="#262626">40</text>
<text transform="translate(114.25 1118.7) scale(0.98 0.99)" font-size="30" fill="#262626">60</text>
<text transform="translate(114.25 1043.3) scale(0.98 0.99)" font-size="30" fill="#262626">80</text>
<g transform="translate(97.9 967.9) scale(0.98 0.99)" fill="#262626"><text font-size="30"> 00</text><path transform="translate(0 0) scale(0.01465 -0.01465)" d="M759 0L478 0L478 1030Q330 915 108 874L108 1078Q250 1125 370 1230Q480 1330 528 1440L759 1440Z"/></g>
<text transform="translate(493.71 1400.5)" font-size="33.2" fill="#262626">time (min)</text>
<text transform="translate(87.8 1144.8) rotate(-90)" x="-161.51" font-size="32.35" fill="#262626">% animals on the top</text>
<path fill="#000" d="M24.8 902.3C23.5 900.6 20.5 899.7 16.2 899.7C7.0 899.7 2.0 906.0 2.0 915.1C2.0 924.5 7.0 930.5 16.2 930.5C20.5 930.5 23.8 928.6 24.8 927.3L24.8 919.0L21.9 918.4C21.0 922.3 19.2 924.2 16.3 924.2C12.0 924.2 9.7 920.6 9.7 915.1C9.7 909.5 12.0 906.1 16.3 906.1C19.0 906.1 20.8 907.8 21.4 910.5L24.8 909.7Z"/>
</svg>
</div></body></html>
